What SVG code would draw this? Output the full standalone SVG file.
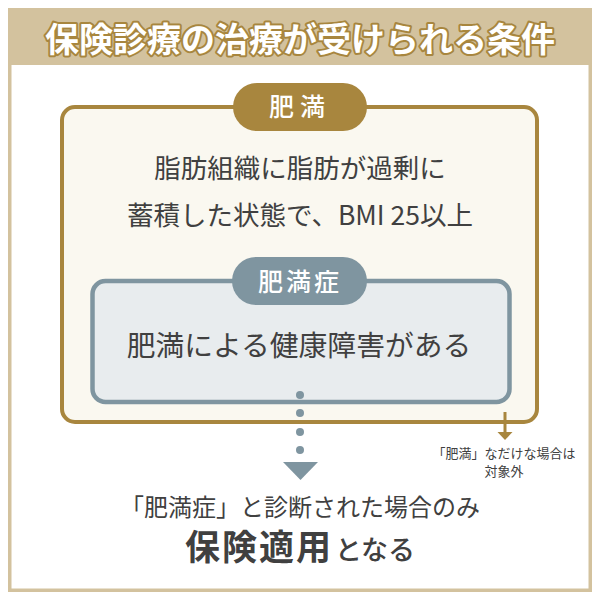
<svg xmlns="http://www.w3.org/2000/svg" width="600" height="600" viewBox="0 0 600 600">
<style>
text{font-family:"Noto Sans CJK JP","Noto Sans",sans-serif;text-anchor:middle}
.dark{fill:#404040}
.pill{fill:#ffffff;font-weight:500}
</style>
<rect x="0" y="0" width="600" height="600" fill="#ffffff"/>
<g id="frame">
<rect x="9.75" y="9.75" width="580.5" height="580.5" fill="#ffffff" stroke="#d3c29e" stroke-width="3.5"/>
<rect x="8" y="8" width="584" height="57" fill="#d3c29e"/>
<text x="300" y="52" font-size="34" font-weight="700" fill="#ffffff" stroke="#a8863e" stroke-width="4" stroke-linejoin="round" paint-order="stroke">保険診療の治療が受けられる条件</text>
</g>
<g id="obesity">
<rect x="62" y="107" width="475" height="315" rx="13" fill="#faf8f0" stroke="#a8863e" stroke-width="4"/>
<rect x="233" y="83" width="134" height="48" rx="24" fill="#a8863e"/>
<text class="pill" x="300" y="116" font-size="25" letter-spacing="6">肥満</text>
<text class="dark" x="300" y="178" font-size="26.5">脂肪組織に脂肪が過剰に</text>
<text class="dark" x="300" y="225" font-size="26.5">蓄積した状態で、BMI 25以上</text>
</g>
<g id="disease">
<rect x="92.5" y="281" width="417" height="121" rx="13" fill="#e8ecee" stroke="#7f95a0" stroke-width="4.5"/>
<rect x="232" y="257" width="135" height="48" rx="24" fill="#7f95a0"/>
<text class="pill" x="300" y="291" font-size="25" letter-spacing="3">肥満症</text>
<text class="dark" x="299" y="356" font-size="28.8">肥満による健康障害がある</text>
</g>
<g id="connectors">
<g fill="#7f95a0">
<circle cx="300" cy="395" r="4"/>
<circle cx="300" cy="413" r="4"/>
<circle cx="300" cy="432" r="4"/>
<circle cx="300" cy="450" r="4"/>
<polygon points="283,462 318,462 300.5,480"/>
</g>
<line x1="505" y1="412" x2="505" y2="433" stroke="#a8863e" stroke-width="3"/>
<polygon points="497.5,432 512.5,432 505,440" fill="#a8863e"/>
</g>
<g id="note">
<text class="dark" x="504" y="458" font-size="13">「肥満」なだけな場合は</text>
<text class="dark" x="504" y="476" font-size="13">対象外</text>
</g>
<g id="result">
<text class="dark" x="300" y="516" font-size="24">「肥満症」と診断された場合のみ</text>
<text class="dark" x="300" y="560"><tspan font-size="35" font-weight="700" letter-spacing="2">保険適用</tspan><tspan font-size="27" font-weight="500" dx="2">となる</tspan></text>
</g>
</svg>
